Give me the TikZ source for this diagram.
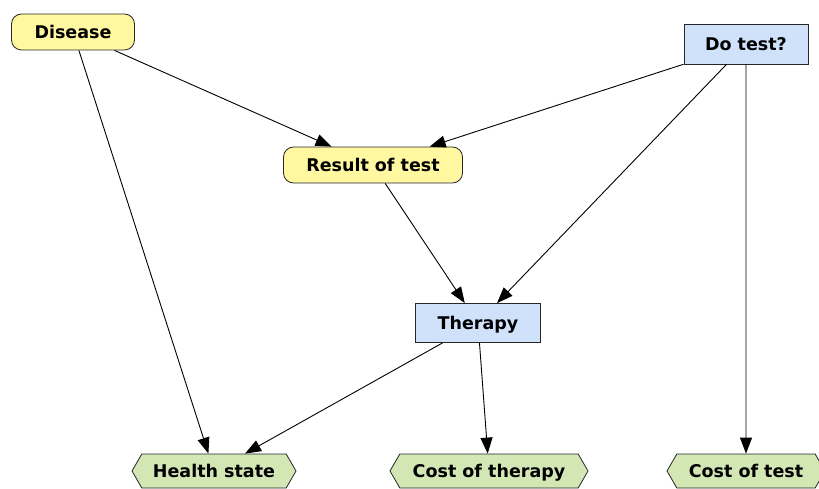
\documentclass[tikz,border=0pt]{standalone}
\usepackage{fontspec}
\setmainfont{DejaVu Sans}
\usetikzlibrary{shapes.symbols,arrows.meta}
\definecolor{chanceyellow}{HTML}{FFF8A0}
\definecolor{decisionblue}{HTML}{CFE2FA}
\definecolor{utilitygreen}{HTML}{D3E7B5}
\tikzset{
  box/.style={draw=black!85, line width=0.8pt, minimum height=36pt, inner xsep=4pt,
    text height=15pt, text depth=2.2pt, font=\fontsize{17.5}{20}\selectfont\bfseries},
  chance/.style={box, fill=chanceyellow, rounded corners=10pt},
  decision/.style={box, fill=decisionblue, minimum height=39pt},
  utility/.style={box, fill=utilitygreen, signal, signal to=west and east,
    signal pointer angle=120, minimum height=34pt},
  link/.style={-{Triangle[length=16pt,width=12pt]}, line width=0.9pt}
}
\begin{document}
\begin{tikzpicture}[x=1pt, y=-1pt]
  \useasboundingbox (0,0) rectangle (819,489);

  % nodes
  \node[chance, minimum width=123pt] (disease) at (73,32) {Disease};
  \node[chance, minimum width=179pt] (result) at (373,165) {Result of test};
  \node[decision, minimum width=124pt, minimum height=40pt] (dotest) at (746,44) {Do test?};
  \node[decision, minimum width=125pt] (therapy) at (478,323) {Therapy};
  \node[utility, minimum width=164pt] (health) at (214,471) {Health state};
  \node[utility, minimum width=198pt] (costtherapy) at (489,471) {Cost of therapy};
  \node[utility, minimum width=158pt] (costtest) at (746,471) {Cost of test};

  % arcs
  \draw[link] (disease) -- (result);
  \draw[link] (disease) -- (health);
  \draw[link] (dotest) -- (result);
  \draw[link] (dotest) -- (therapy);
  \draw[link] (dotest) -- (costtest);
  \draw[link] (result) -- (therapy);
  \draw[link] (therapy) -- (health);
  \draw[link] (therapy) -- (costtherapy);
\end{tikzpicture}
\end{document}
